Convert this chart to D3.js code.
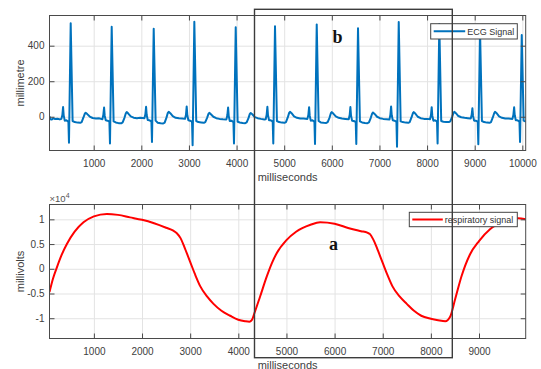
<!DOCTYPE html>
<html>
<head>
<meta charset="utf-8">
<script src="https://cdn.jsdelivr.net/npm/d3@7"></script>
<style>
  html, body { margin: 0; padding: 0; background: #fff; }
  svg { display: block; font-family: "Liberation Sans", Arial, Helvetica, sans-serif; }
</style>
</head>
<body>
<svg id="chart" width="541" height="369"></svg>
<script>
// ECG trace (ms, millimetre)
const ecgTime = [
  75, 90, 120, 150, 190, 240, 290,
  322, 342, 357, 370, 392, 427, 457, 469, 481, 517, 557, 602, 662, 717, 747, 785, 814, 832, 865, 917, 977, 1047, 1117,
  1183, 1203, 1218, 1231, 1253, 1288, 1318, 1330, 1342, 1378, 1418, 1463, 1523, 1578, 1608, 1646, 1675, 1693, 1726, 1778, 1838, 1908, 1978,
  2065, 2085, 2100, 2113, 2135, 2170, 2200, 2212, 2224, 2260, 2300, 2345, 2405, 2460, 2490, 2528, 2557, 2575, 2608, 2660, 2720, 2790, 2860,
  2918, 2938, 2953, 2966, 2988, 3023, 3053, 3065, 3077, 3113, 3153, 3198, 3258, 3313, 3343, 3381, 3410, 3428, 3461, 3513, 3573, 3643, 3713,
  3787, 3807, 3822, 3835, 3857, 3892, 3922, 3934, 3946, 3982, 4022, 4067, 4127, 4182, 4212, 4250, 4279, 4297, 4330, 4382, 4442, 4512, 4582,
  4612, 4632, 4647, 4660, 4682, 4717, 4747, 4759, 4771, 4807, 4847, 4892, 4952, 5007, 5037, 5075, 5104, 5122, 5155, 5207, 5267, 5337, 5407,
  5488, 5508, 5523, 5536, 5558, 5593, 5623, 5635, 5647, 5683, 5723, 5768, 5828, 5883, 5913, 5951, 5980, 5998, 6031, 6083, 6143, 6213, 6283,
  6355, 6375, 6390, 6403, 6425, 6460, 6490, 6502, 6514, 6550, 6590, 6635, 6695, 6750, 6780, 6818, 6847, 6865, 6898, 6950, 7010, 7080, 7150,
  7210, 7230, 7245, 7258, 7280, 7315, 7345, 7357, 7369, 7405, 7445, 7490, 7550, 7605, 7635, 7673, 7702, 7720, 7753, 7805, 7865, 7935, 8005,
  8062, 8082, 8097, 8110, 8132, 8167, 8197, 8209, 8221, 8257, 8297, 8342, 8402, 8457, 8487, 8525, 8554, 8572, 8605, 8657, 8717, 8787, 8857,
  8917, 8937, 8952, 8965, 8987, 9022, 9052, 9064, 9076, 9112, 9152, 9197, 9257, 9312, 9342, 9380, 9409, 9427, 9460, 9512, 9572, 9642, 9712,
  9793, 9813, 9828, 9841, 9863, 9898, 9928, 9940, 9952, 9988, 10028, 10073
];
const ecgValue = [
  2, -14, -16, -9, -13, -11, -15,
  -12, 10, 55, 8, -22, -20, -26, -28, -146, 526, -24, -30, -33, -34, -30, -4, 18, 22, 15, 1, -7, -10, -9,
  -14, 12, 52, 6, -20, -22, -25, -30, -150, 507, -26, -32, -36, -37, -32, -6, 20, 27, 18, 2, -5, -8, -6,
  -8, 14, 56, 10, -18, -20, -24, -27, -142, 496, -22, -34, -37, -38, -33, -5, 22, 28, 20, 3, -6, -9, -10,
  -12, 12, 58, 8, -20, -22, -26, -30, -160, 535, -24, -30, -32, -34, -30, -6, 16, 22, 14, 0, -8, -12, -14,
  -15, 10, 52, 5, -24, -22, -28, -30, -150, 504, -28, -32, -35, -36, -32, -8, 16, 21, 14, -2, -8, -12, -15,
  -14, 12, 56, 8, -20, -20, -25, -28, -150, 510, -24, -30, -33, -34, -30, -4, 22, 28, 20, 2, -6, -10, -10,
  -12, 12, 54, 6, -22, -20, -26, -28, -153, 520, -24, -32, -34, -35, -30, -6, 20, 26, 18, 2, -6, -10, -12,
  -14, 10, 55, 8, -22, -24, -28, -30, -153, 498, -26, -32, -35, -36, -32, -6, 18, 24, 16, 0, -8, -12, -14,
  -16, 12, 58, 8, -20, -22, -26, -30, -169, 533, -26, -30, -33, -34, -30, -4, 20, 26, 18, 0, -8, -12, -12,
  -14, 10, 54, 6, -22, -20, -25, -28, -150, 522, -24, -28, -30, -30, -26, -2, 22, 28, 20, 4, -3, -6, -8,
  -10, 12, 48, 6, -22, -22, -26, -30, -155, 488, -24, -30, -33, -34, -30, -4, 20, 28, 20, 2, -6, -10, -10,
  -12, 12, 53, 8, -20, -20, -25, -28, -142, 460, -22, -28
];

// Respiratory trace (ms, millivolts)
const respTime = [
  78, 150, 232, 330, 439, 600, 784, 1000, 1270, 1500, 1750, 2000, 2250, 2500, 2650, 2723,
  2800, 2860, 2900, 3000, 3100, 3208, 3350, 3485, 3650, 3830, 4000, 4140, 4230, 4280,
  4334, 4453, 4590, 4700, 4800, 5000, 5200, 5500, 5700, 6000, 6300, 6550, 6680, 6736,
  6800, 6860, 6900, 7000, 7100, 7200, 7350, 7500, 7650, 7800, 8000, 8150, 8300, 8400,
  8505, 8640, 8812, 9000, 9228, 9504, 9815, 9970
];
const respValue = [
  -4700, -2000, 300, 2800, 5000, 7500, 9400, 10600, 11100, 10900, 10400, 9900, 9200, 8300, 7700, 7200,
  6200, 4900, 3900, 1400, -1100, -3500, -5600, -7100, -8500, -9500, -10300, -10600, -10700, -10400,
  -9000, -5600, -1600, 1200, 3200, 5800, 7500, 8900, 9400, 9100, 8200, 7600, 7300, 7000,
  6000, 4700, 3700, 1200, -1300, -3500, -5600, -7100, -8500, -9500, -10100, -10400, -10600, -9700,
  -6100, -1400, 2900, 5600, 8000, 9500, 10200, 10000
];

// Tick values and labels
const ecgXTicks = [1000, 2000, 3000, 4000, 5000, 6000, 7000, 8000, 9000, 10000];
const ecgYTicks = [0, 200, 400];
const respXTicks = [1000, 2000, 3000, 4000, 5000, 6000, 7000, 8000, 9000];
const respYTicks = [-10000, -5000, 0, 5000, 10000];
const respYTickLabels = ["-1", "-0.5", "0", "0.5", "1"];

const svg = d3.select("#chart");
const AX = "#4a4a4a", GRID = "#e3e3e3", TXT = "#404040";
const plainInt = d3.format("d");

function panel(cfg) {
  const { left, right, top, bottom, xDomain, yDomain, xTicks, yTicks, yFormat,
          times, values, color, curve, id } = cfg;
  const x = d3.scaleLinear().domain(xDomain).range([left, right]);
  const y = d3.scaleLinear().domain(yDomain).range([bottom, top]);
  const h = bottom - top, w = right - left;

  svg.append("defs").append("clipPath").attr("id", id)
    .append("rect").attr("x", left).attr("y", top).attr("width", w).attr("height", h);

  // grid
  const gx = svg.append("g").attr("transform", `translate(0,${bottom})`)
    .call(d3.axisBottom(x).tickValues(xTicks).tickSize(-h).tickFormat(""));
  const gy = svg.append("g").attr("transform", `translate(${left},0)`)
    .call(d3.axisLeft(y).tickValues(yTicks).tickSize(-w).tickFormat(""));
  [gx, gy].forEach(g => {
    g.select(".domain").remove();
    g.selectAll("line").attr("stroke", GRID).attr("stroke-width", 1);
  });

  // data line
  const line = d3.line().x(d => x(d[0])).y(d => y(d[1])).curve(curve);
  svg.append("path")
    .datum(times.map((t, i) => [t, values[i]]))
    .attr("clip-path", `url(#${id})`)
    .attr("fill", "none").attr("stroke", color).attr("stroke-width", 2)
    .attr("stroke-linejoin", "round").attr("d", line);

  // axes with inward ticks
  const axes = [
    svg.append("g").attr("transform", `translate(0,${bottom})`)
      .call(d3.axisBottom(x).tickValues(xTicks).tickFormat(plainInt).tickSizeInner(-5).tickSizeOuter(0).tickPadding(9)),
    svg.append("g").attr("transform", `translate(0,${top})`)
      .call(d3.axisTop(x).tickValues(xTicks).tickSizeInner(-5).tickSizeOuter(0).tickFormat("")),
    svg.append("g").attr("transform", `translate(${left},0)`)
      .call(d3.axisLeft(y).tickValues(yTicks).tickFormat(yFormat).tickSizeInner(-5).tickSizeOuter(0).tickPadding(5)),
    svg.append("g").attr("transform", `translate(${right},0)`)
      .call(d3.axisRight(y).tickValues(yTicks).tickSizeInner(-5).tickSizeOuter(0).tickFormat(""))
  ];
  axes.forEach(g => {
    g.attr("font-family", null).attr("font-size", 10);
    g.select(".domain").remove();
    g.selectAll("line").attr("stroke", AX);
    g.selectAll("text").attr("fill", TXT);
  });

  svg.append("rect").attr("x", left).attr("y", top).attr("width", w).attr("height", h)
    .attr("fill", "none").attr("stroke", AX).attr("stroke-width", 1);

  return { x, y };
}

// ECG panel
panel({
  id: "clipEcg", left: 49.5, right: 525.7, top: 15.5, bottom: 150.5,
  xDomain: [72, 10071], yDomain: [-190, 570],
  xTicks: ecgXTicks, yTicks: ecgYTicks, yFormat: d => String(d),
  times: ecgTime, values: ecgValue, color: "#0072BD", curve: d3.curveLinear
});

// Respiratory panel
panel({
  id: "clipResp", left: 49.5, right: 525.7, top: 204.5, bottom: 338.5,
  xDomain: [78, 9970], yDomain: [-14100, 13000],
  xTicks: respXTicks, yTicks: respYTicks, yFormat: (d, i) => respYTickLabels[i],
  times: respTime, values: respValue, color: "#FF0000", curve: d3.curveMonotoneX
});

// axis titles
svg.append("text").attr("x", 287.6).attr("y", 181).attr("text-anchor", "middle")
  .attr("font-size", 11).attr("fill", TXT).text("milliseconds");
svg.append("text").attr("x", 287.6).attr("y", 368.5).attr("text-anchor", "middle")
  .attr("font-size", 11).attr("fill", TXT).text("milliseconds");
svg.append("text").attr("transform", "translate(23.5,83) rotate(-90)").attr("text-anchor", "middle")
  .attr("font-size", 11).attr("fill", TXT).text("millimetre");
svg.append("text").attr("transform", "translate(23.5,271.5) rotate(-90)").attr("text-anchor", "middle")
  .attr("font-size", 11).attr("fill", TXT).text("millivolts");

// exponent
const ex = svg.append("text").attr("x", 49.5).attr("y", 201.5).attr("font-size", 9.5).attr("fill", "#555");
ex.append("tspan").text("\u00d710");
ex.append("tspan").attr("font-size", 7).attr("dy", -4).text("4");

// legends
function legend(x0, y0, w, h, color, label, lineLen) {
  svg.append("rect").attr("x", x0).attr("y", y0).attr("width", w).attr("height", h)
    .attr("fill", "#fff").attr("stroke", "#444").attr("stroke-width", 1);
  const cy = y0 + h / 2;
  svg.append("line").attr("x1", x0 + 3).attr("x2", x0 + 3 + lineLen).attr("y1", cy).attr("y2", cy)
    .attr("stroke", color).attr("stroke-width", 2);
  svg.append("text").attr("x", x0 + 5 + lineLen).attr("y", cy + 3.2).attr("font-size", 9)
    .attr("fill", "#333").text(label);
}
legend(430.7, 23.7, 86.6, 15.3, "#0072BD", "ECG Signal", 31.5);
legend(409.3, 212.3, 108, 14.4, "#FF0000", "respiratory signal", 30.5);

// highlighted window spanning both panels
svg.append("rect").attr("x", 254.5).attr("y", 9.3).attr("width", 197.8).attr("height", 348.4)
  .attr("fill", "none").attr("stroke", "#3c3c3c").attr("stroke-width", 1.4);

svg.append("text").attr("x", 337.5).attr("y", 43.3).attr("text-anchor", "middle")
  .attr("font-family", "'Liberation Serif', 'Times New Roman', serif").attr("font-weight", "bold")
  .attr("font-size", 18).attr("fill", "#111").text("b");
svg.append("text").attr("x", 333.5).attr("y", 250).attr("text-anchor", "middle")
  .attr("font-family", "'Liberation Serif', 'Times New Roman', serif").attr("font-weight", "bold")
  .attr("font-size", 18).attr("fill", "#111").text("a");
</script>
</body>
</html>
